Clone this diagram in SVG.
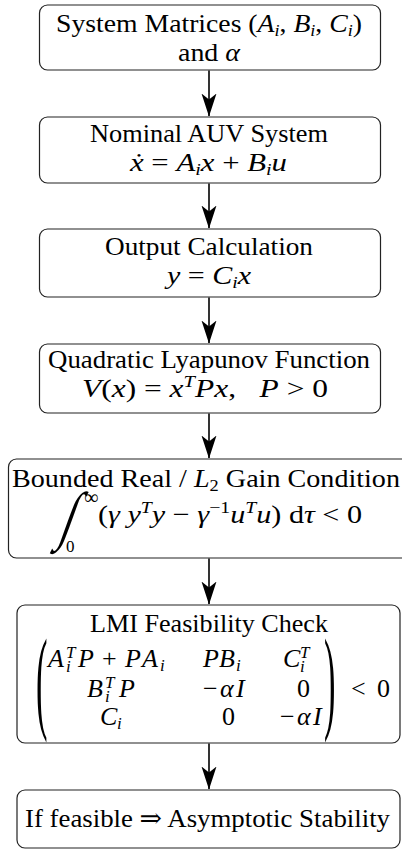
<svg xmlns="http://www.w3.org/2000/svg" width="402" height="850" viewBox="0 0 402 850">
<defs>
<style>
.box{fill:#fff;stroke:#222;stroke-width:1.2}
.t{font-size:26px;fill:#000}
.i{font-style:italic}
.s{font-size:17px}
.conn line{stroke:#000;stroke-width:1.6;marker-end:url(#ah)}
</style>
<marker id="ah" markerUnits="userSpaceOnUse" viewBox="0 0 23 16" markerWidth="23" markerHeight="16" refX="22.5" refY="8" orient="auto">
<path d="M23,8 L0,0.5 L6,8 L0,15.5 Z" fill="#000"/>
</marker>
</defs>
<rect width="402" height="850" fill="#fff"/>
<g font-family="'Liberation Serif', 'DejaVu Serif', serif">
<g id="n1">
<rect class="box" x="39.5" y="5" width="341" height="65" rx="8"/>
<text class="t" x="56" y="32" textLength="306" lengthAdjust="spacingAndGlyphs">System Matrices (<tspan class="i">A</tspan><tspan class="s i" dy="4">i</tspan><tspan dy="-4">, </tspan><tspan class="i">B</tspan><tspan class="s i" dy="4">i</tspan><tspan dy="-4">, </tspan><tspan class="i">C</tspan><tspan class="s i" dy="4">i</tspan><tspan dy="-4">)</tspan></text>
<text class="t" x="178" y="61" textLength="62" lengthAdjust="spacingAndGlyphs">and <tspan class="i">α</tspan></text>
</g>

<g id="n2">
<rect class="box" x="39.5" y="117" width="341" height="66" rx="8"/>
<text class="t" x="90" y="142" textLength="238" lengthAdjust="spacingAndGlyphs">Nominal AUV System</text>
<text class="t" x="130" y="171" textLength="157" lengthAdjust="spacingAndGlyphs"><tspan class="i">ẋ</tspan> = <tspan class="i">A</tspan><tspan class="s i" dy="4">i</tspan><tspan class="i" dy="-4">x</tspan> + <tspan class="i">B</tspan><tspan class="s i" dy="4">i</tspan><tspan class="i" dy="-4">u</tspan></text>
</g>

<g id="n3">
<rect class="box" x="39.5" y="229" width="341" height="68" rx="8"/>
<text class="t" x="105" y="255" textLength="208" lengthAdjust="spacingAndGlyphs">Output Calculation</text>
<text class="t" x="167" y="284" textLength="84" lengthAdjust="spacingAndGlyphs"><tspan class="i">y</tspan> = <tspan class="i">C</tspan><tspan class="s i" dy="4">i</tspan><tspan class="i" dy="-4">x</tspan></text>
</g>

<g id="n4">
<rect class="box" x="39.5" y="344" width="341" height="69" rx="8"/>
<text class="t" x="48" y="368" textLength="322" lengthAdjust="spacingAndGlyphs">Quadratic Lyapunov Function</text>
<text class="t" x="82" y="397" textLength="246" lengthAdjust="spacingAndGlyphs"><tspan class="i">V</tspan>(<tspan class="i">x</tspan>) = <tspan class="i">x</tspan><tspan class="s i" dy="-10">T</tspan><tspan class="i" dy="10">Px</tspan>,&#160;&#160;&#160;<tspan class="i">P</tspan> &gt; 0</text>
</g>

<g id="n5">
<rect class="box" x="8.5" y="459" width="402" height="99" rx="8"/>
<text class="t" x="12" y="487" textLength="388" lengthAdjust="spacingAndGlyphs">Bounded Real / <tspan class="i">L</tspan><tspan class="s" dy="4">2</tspan><tspan dy="-4"> Gain Condition</tspan></text>
<text class="t" transform="translate(58,537) skewX(-20) scale(1,1.46)" style="font-size:44px">∫</text>
<text class="t" x="84" y="504" style="font-size:20px">∞</text>
<text class="t s" x="66" y="552">0</text>
<text class="t" x="98" y="523" textLength="264" lengthAdjust="spacingAndGlyphs">(<tspan class="i">γ </tspan><tspan class="i">y</tspan><tspan class="s i" dy="-10">T</tspan><tspan class="i" dy="10">y</tspan> − <tspan class="i">γ</tspan><tspan class="s" dy="-10">−1</tspan><tspan class="i" dy="10">u</tspan><tspan class="s i" dy="-10">T</tspan><tspan class="i" dy="10">u</tspan>) d<tspan class="i">τ</tspan> &lt; 0</text>
</g>

<g id="n6">
<rect class="box" x="17" y="605" width="383" height="138" rx="8"/>
<text class="t" x="90" y="632" textLength="238" lengthAdjust="spacingAndGlyphs">LMI Feasibility Check</text>
<text class="t" transform="translate(36,717.7) scale(1.15,3.83)" style="font-size:30px">(</text>
<text class="t" transform="translate(324,717.7) scale(1.15,3.83)" style="font-size:30px">)</text>
<text class="t"><tspan class="i" x="48" y="667">A</tspan><tspan class="s i" x="66" y="672">i</tspan><tspan class="s i" x="66" y="658">T</tspan><tspan class="i" x="78" y="667">P</tspan><tspan x="102" y="667">+</tspan><tspan class="i" x="125" y="667">P</tspan><tspan class="i" x="142" y="667">A</tspan><tspan class="s i" x="160" y="671">i</tspan></text>
<text class="t"><tspan class="i" x="203" y="667">P</tspan><tspan class="i" x="219" y="667">B</tspan><tspan class="s i" x="236" y="671">i</tspan></text>
<text class="t"><tspan class="i" x="283" y="667">C</tspan><tspan class="s i" x="300" y="672">i</tspan><tspan class="s i" x="300" y="658">T</tspan></text>
<text class="t"><tspan class="i" x="87" y="697">B</tspan><tspan class="s i" x="105" y="702">i</tspan><tspan class="s i" x="105" y="688">T</tspan><tspan class="i" x="119" y="697">P</tspan></text>
<text class="t"><tspan x="203" y="697">−</tspan><tspan class="i" x="220" y="697">α</tspan><tspan class="i" x="236" y="697">I</tspan></text>
<text class="t" x="297" y="697">0</text>
<text class="t"><tspan class="i" x="100" y="725">C</tspan><tspan class="s i" x="117" y="729">i</tspan></text>
<text class="t" x="222" y="725">0</text>
<text class="t"><tspan x="280" y="725">−</tspan><tspan class="i" x="297" y="725">α</tspan><tspan class="i" x="313" y="725">I</tspan></text>
<text class="t"><tspan x="351" y="697">&lt;</tspan><tspan x="377" y="697">0</tspan></text>
</g>

<g id="n7">
<rect class="box" x="17" y="790" width="383" height="58" rx="8"/>
<text class="t" x="25" y="827" textLength="365" lengthAdjust="spacingAndGlyphs">If feasible ⇒ Asymptotic Stability</text>
</g>
</g>
<g id="connectors" class="conn">
<line x1="209" y1="70.6" x2="209" y2="116"/>
<line x1="209" y1="183.6" x2="209" y2="228"/>
<line x1="209" y1="297.6" x2="209" y2="343"/>
<line x1="209" y1="413.6" x2="209" y2="458"/>
<line x1="209" y1="558.6" x2="209" y2="604"/>
<line x1="209" y1="743.6" x2="209" y2="789"/>
</g>
</svg>
